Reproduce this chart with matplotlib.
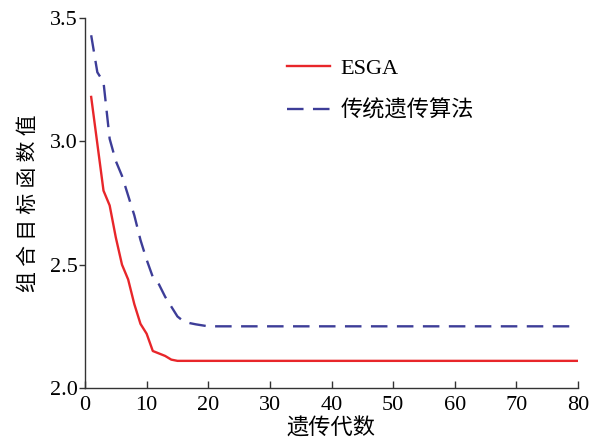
import numpy as np
import matplotlib
matplotlib.use("Agg")
import matplotlib.pyplot as plt

plt.rcParams['font.family'] = ['Liberation Serif', 'Noto Sans CJK SC', 'DejaVu Sans']

# generations and objective values
gen_head = [1, 2, 3, 4, 5, 6, 7, 8, 9, 10, 11, 12, 13, 14, 15, 16, 17, 18, 19, 20]
esga_head = [3.18, 2.99, 2.80, 2.74, 2.61, 2.50, 2.44, 2.34, 2.26, 2.22,
             2.15, 2.14, 2.13, 2.115, 2.11, 2.11, 2.11, 2.11, 2.11, 2.11]
ga_head = [3.43, 3.28, 3.24, 3.01, 2.92, 2.86, 2.78, 2.70, 2.60, 2.52,
           2.45, 2.42, 2.37, 2.33, 2.29, 2.27, 2.263, 2.258, 2.254, 2.25]
gen_tail = [30, 40, 50, 60, 70, 80]
esga_tail = [2.11, 2.11, 2.11, 2.11, 2.11, 2.11]
ga_tail = [2.25, 2.25, 2.25, 2.25, 2.25, 2.25]

gens = gen_head + gen_tail
esga = esga_head + esga_tail
ga = ga_head + ga_tail

fig = plt.figure(figsize=(5.97, 4.41), dpi=100)
ax = fig.add_axes([0.1424, 0.1202, 0.8258, 0.8390])

ax.plot(gens, esga, color='#e8262a', lw=1.7, label='ESGA')
ax.plot(gens, ga, color='#3d3d98', lw=1.7, dashes=(7, 4), label='传统遗传算法')

ax.set_xlim(0, 80)
ax.set_ylim(2.0, 3.5)
ax.set_xticks(np.arange(0, 81, 10))
ax.set_yticks([2.0, 2.5, 3.0, 3.5])
ax.set_yticklabels(['2.0', '2.5', '3.0', '3.5'])

for s in ['top', 'right']:
    ax.spines[s].set_visible(False)
for s in ['left', 'bottom']:
    ax.spines[s].set_color('#333333')
    ax.spines[s].set_linewidth(1.0)

ax.tick_params(axis='y', direction='out', length=4, width=1.0, color='#333333',
               labelsize=16, pad=1)
ax.tick_params(axis='x', direction='in', length=5, width=1.0, color='#333333',
               labelsize=16, pad=6)

ax.set_xlabel('遗传代数', fontsize=16, labelpad=2)
ax.set_ylabel(' '.join('组合目标函数值'), fontsize=15, labelpad=8)

ax.legend(loc='upper left', bbox_to_anchor=(0.41, 0.89), frameon=False,
          fontsize=16, handlelength=1.95, handletextpad=0.45, labelspacing=0.95,
          borderpad=0, borderaxespad=0)

fig.savefig('out.png', dpi=100)
